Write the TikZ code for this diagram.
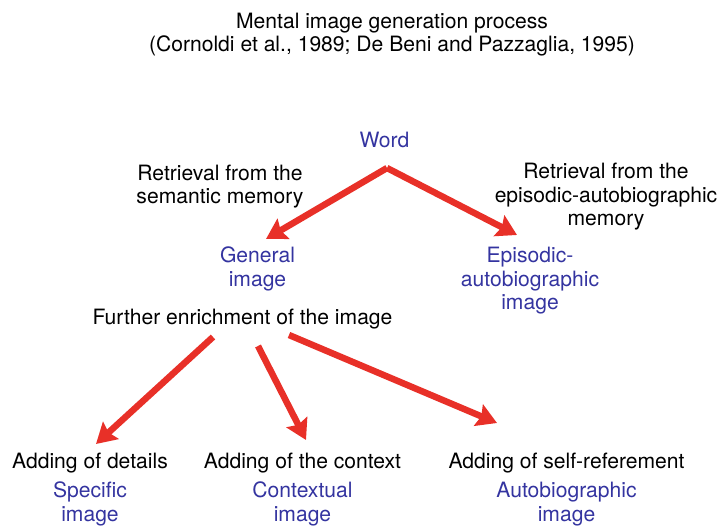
\documentclass[tikz,border=0pt]{standalone}
\usepackage{fontspec}
\setmainfont{TeX Gyre Heros}
\usetikzlibrary{arrows.meta}
\definecolor{arrowred}{RGB}{232,48,40}
\definecolor{labelblue}{RGB}{52,52,160}
\begin{document}
\begin{tikzpicture}[x=1pt,y=-1pt,
  % base anchor of a multi-line node sits on its last line
  txt/.style={font=\fontsize{21.1}{23.5}\selectfont, align=center, inner sep=0pt, anchor=base},
  stage/.style={txt, text=labelblue},
  note/.style={txt, text=black},
  flow/.style={draw=arrowred, line width=6.5pt,
    -{Stealth[length=20pt,width=23pt,inset=3pt]}}]
\useasboundingbox (0,0) rectangle (723,526);

% title
\node[note] (title) at (392,52) {Mental image generation process\\(Cornoldi et al., 1989; De Beni and Pazzaglia, 1995)};

% first level: retrieval
\node[stage] (word) at (384.5,148) {Word};
\node[note] (semantic) at (220,204) {Retrieval from the\\semantic memory};
\node[note] (episodic) at (606,226) {Retrieval from the\\episodic-autobiographic\\memory};
\node[stage] (general) at (257.5,286.5) {General\\image};
\node[stage] (epimage) at (530,310) {Episodic-\\autobiographic\\image};

% second level: enrichment
\node[note] (further) at (242.5,325) {Further enrichment of the image};
\node[note] (details) at (90,468) {Adding of details};
\node[note] (context) at (302.5,468) {Adding of the context};
\node[note] (selfref) at (566.5,468) {Adding of self-referement};
\node[stage] (specific) at (90,521) {Specific\\image};
\node[stage] (contextual) at (302.5,521) {Contextual\\image};
\node[stage] (autobio) at (566.5,521) {Autobiographic\\image};

% arrow end points
\coordinate (word-out) at (387,168);
\coordinate (general-in) at (266,239);
\coordinate (epimage-in) at (517,235);
\coordinate (further-out1) at (213,337);
\coordinate (further-out2) at (258,346);
\coordinate (further-out3) at (289,335);
\coordinate (details-in) at (96,444);
\coordinate (context-in) at (306,440);
\coordinate (selfref-in) at (497,423);

% arrows
\draw[flow] (word-out) -- (general-in);
\draw[flow] (word-out) -- (epimage-in);
\draw[flow] (further-out1) -- (details-in);
\draw[flow] (further-out2) -- (context-in);
\draw[flow] (further-out3) -- (selfref-in);
\end{tikzpicture}
\end{document}
